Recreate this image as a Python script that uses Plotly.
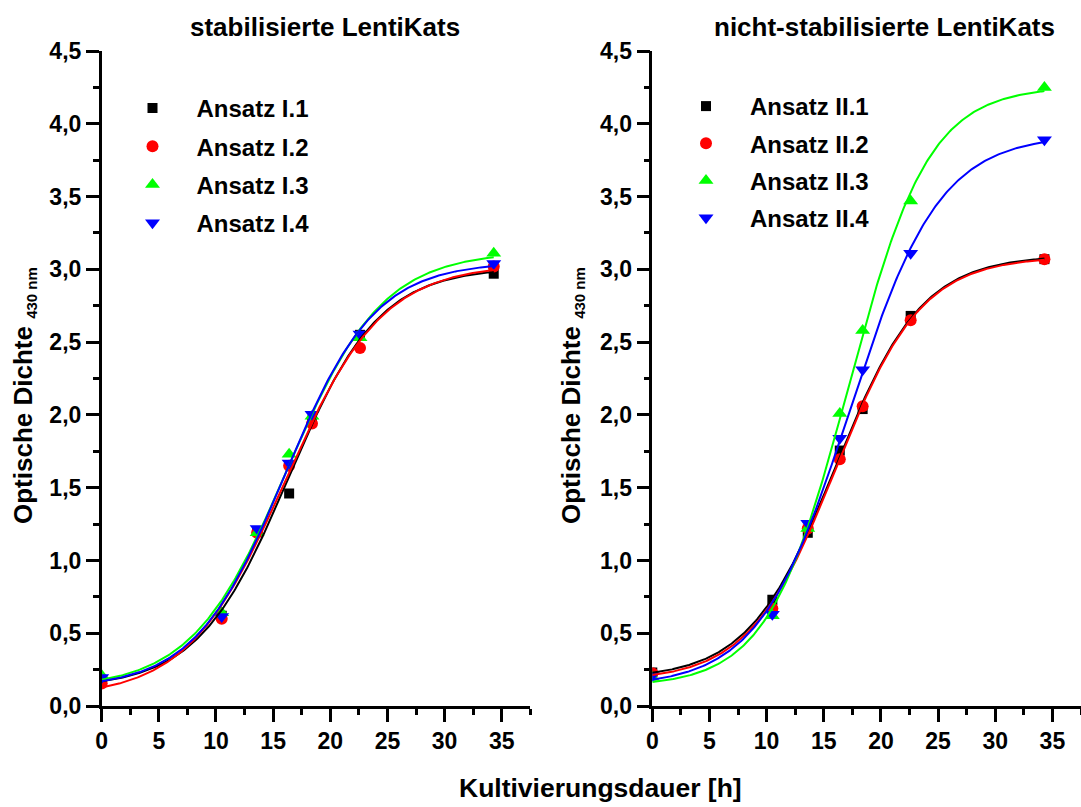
import numpy as np
import plotly.graph_objects as go

# ---------------- data ----------------
time_h = [0, 10.5, 13.6, 16.4, 18.4, 22.6, 34.3]
x_ticks = [0, 5, 10, 15, 20, 25, 30, 35]

names_I = ["Ansatz I.1", "Ansatz I.2", "Ansatz I.3", "Ansatz I.4"]
od_I1 = [0.17, 0.62, 1.20, 1.46, 1.96, 2.55, 2.97]
od_I2 = [0.155, 0.60, 1.19, 1.65, 1.94, 2.46, 3.02]
od_I3 = [0.21, 0.64, 1.19, 1.73, 1.99, 2.53, 3.11]
od_I4 = [0.195, 0.615, 1.22, 1.67, 2.005, 2.555, 3.04]

names_II = ["Ansatz II.1", "Ansatz II.2", "Ansatz II.3", "Ansatz II.4"]
od_II1 = [0.23, 0.73, 1.19, 1.755, 2.04, 2.68, 3.07]
od_II2 = [0.225, 0.67, 1.22, 1.695, 2.06, 2.65, 3.07]
od_II3 = [0.195, 0.62, 1.22, 2.01, 2.58, 3.47, 4.25]
od_II4 = [0.21, 0.63, 1.255, 1.84, 2.31, 3.11, 3.89]

colors = ["#000000", "#FF0000", "#00FF00", "#0000FF"]
symbols = ["square", "circle", "triangle-up", "triangle-down"]
msizes = [10, 12, 13, 13]

FONT = "Liberation Sans, Arial, sans-serif"


# ---------------- Boltzmann fit (as in the original analysis) ----------------
def boltz(p, x):
    a1, a2, x0, dx = p
    z = np.clip((x - x0) / dx, -60, 60)
    return a2 + (a1 - a2) / (1.0 + np.exp(z))


def fit_boltz(x, y):
    x = np.asarray(x, float)
    y = np.asarray(y, float)
    p = np.array([y.min() - 0.1, y.max(), 17.0, 4.0])
    lam = 1e-2

    def res(q):
        return boltz(q, x) - y

    for _ in range(400):
        r = res(p)
        J = np.empty((len(x), 4))
        for j in range(4):
            h = 1e-6 * max(1.0, abs(p[j]))
            dp = np.zeros(4)
            dp[j] = h
            J[:, j] = (res(p + dp) - r) / h
        A = J.T @ J
        g = J.T @ r
        try:
            step = np.linalg.solve(A + lam * (np.diag(np.diag(A)) + 1e-9 * np.eye(4)), -g)
        except np.linalg.LinAlgError:
            break
        pn = p + step
        if abs(pn[3]) > 0.3 and np.sum(res(pn) ** 2) < np.sum(r ** 2):
            p = pn
            lam = max(lam * 0.3, 1e-9)
        else:
            lam *= 10
            if lam > 1e8:
                break
    return p


fig = go.Figure()

panels = [
    (names_I, [od_I1, od_I2, od_I3, od_I4], "x", "y", "legend"),
    (names_II, [od_II1, od_II2, od_II3, od_II4], "x2", "y2", "legend2"),
]

xs = np.linspace(min(time_h), max(time_h), 300)
for names, series, xa, ya, lg in panels:
    for i, (nm, ys) in enumerate(zip(names, series)):
        fig.add_trace(go.Scatter(
            x=time_h, y=ys, mode="markers", name=nm, xaxis=xa, yaxis=ya,
            legend=lg, legendgroup=nm,
            marker=dict(symbol=symbols[i], size=msizes[i], color=colors[i],
                        line=dict(width=0)),
        ))
    for i, (nm, ys) in enumerate(zip(names, series)):
        p = fit_boltz(time_h, ys)
        fig.add_trace(go.Scatter(
            x=xs, y=boltz(p, xs), mode="lines", showlegend=False,
            xaxis=xa, yaxis=ya, hoverinfo="skip",
            line=dict(color=colors[i], width=2),
        ))

W, H = 1081, 807
px = lambda v: v / W
py = lambda v: 1 - v / H

axis_common = dict(
    showline=True, linecolor="black", linewidth=2.5,
    ticks="outside", ticklen=13, tickwidth=2.5, tickcolor="black",
    showgrid=False, zeroline=False, mirror=False, automargin=False,
    tickfont=dict(family=FONT, size=23, color="black", weight="bold"),
)
xaxis_common = dict(axis_common, range=[0, 37.5], tickvals=x_ticks,
                    minor=dict(ticks="outside", ticklen=6, tickwidth=2.5,
                               dtick=2.5, tick0=0, tickcolor="black"))
yaxis_common = dict(axis_common, range=[0, 4.5], dtick=0.5, tick0=0,
                    tickformat=".1f",
                    minor=dict(ticks="outside", ticklen=6, tickwidth=2.5,
                               dtick=0.25, tick0=0, tickcolor="black"))

fig.update_layout(
    width=W, height=H,
    margin=dict(l=0, r=0, t=0, b=0, pad=0, autoexpand=False),
    paper_bgcolor="white", plot_bgcolor="white",
    separators=",.",
    font=dict(family=FONT, size=21, color="black", weight="bold"),
    xaxis=dict(xaxis_common, domain=[px(101.7), px(530.3)], anchor="y"),
    yaxis=dict(yaxis_common, domain=[py(706), py(51)], anchor="x"),
    xaxis2=dict(xaxis_common, domain=[px(652.3), 1.0], anchor="y2"),
    yaxis2=dict(yaxis_common, domain=[py(706), py(51)], anchor="x2"),
    legend=dict(x=px(108.5), y=py(86), xanchor="left", yanchor="top",
                bgcolor="rgba(0,0,0,0)", itemwidth=78, tracegroupgap=4,
                font=dict(family=FONT, size=24, color="black", weight="bold")),
    legend2=dict(x=px(662), y=py(84), xanchor="left", yanchor="top",
                 bgcolor="rgba(0,0,0,0)", itemwidth=78, tracegroupgap=3,
                 font=dict(family=FONT, size=24, color="black", weight="bold")),
    showlegend=True,
)

title_font = dict(family=FONT, size=26, color="black", weight="bold")
xtitle_font = dict(family=FONT, size=26.5, color="black", weight="bold")
ann = [
    dict(text="stabilisierte LentiKats", x=px(325), y=py(27), font=title_font),
    dict(text="nicht-stabilisierte LentiKats", x=px(884), y=py(27), font=title_font),
    dict(text="Kultivierungsdauer [h]", x=px(600), y=py(788), font=xtitle_font),
]
for a in ann:
    fig.add_annotation(xref="paper", yref="paper", showarrow=False,
                       xanchor="center", yanchor="middle", **a)

ytitle = "Optische Dichte <sub><span style='font-size:15px'>430 nm</span></sub>"
for xc in (24, 572):
    fig.add_annotation(xref="paper", yref="paper", showarrow=False,
                       x=px(xc), y=py(396), xanchor="center", yanchor="middle",
                       textangle=-90, text=ytitle, font=title_font)

fig.write_html("out.html")
